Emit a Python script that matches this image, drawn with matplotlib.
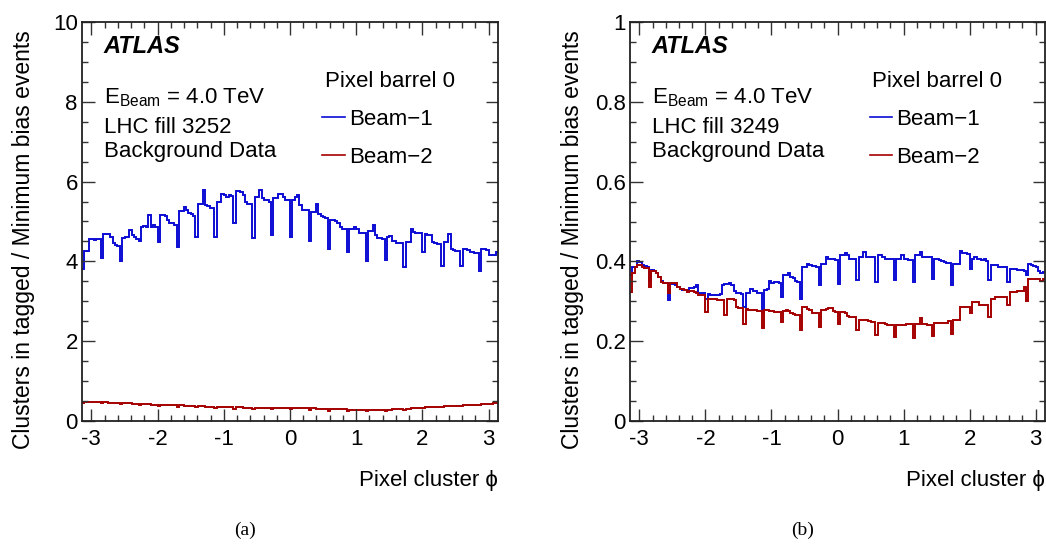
import numpy as np
import matplotlib
matplotlib.use("Agg")
import matplotlib.pyplot as plt
from matplotlib.ticker import MultipleLocator

plt.rcParams['font.family'] = ['Liberation Sans', 'DejaVu Sans']
plt.rcParams['mathtext.fontset'] = 'custom'
plt.rcParams['mathtext.rm'] = 'Liberation Sans'
plt.rcParams['mathtext.it'] = 'Liberation Sans:italic'
plt.rcParams['mathtext.bf'] = 'Liberation Sans:bold'
plt.rcParams['axes.unicode_minus'] = False

# ---------------- data (22 staves x 8 bins, phi in [-pi, pi]) ----------------
n_bins = 176

a_beam1 = [
    3.80, 4.27, 4.27, 4.55, 4.57, 4.53, 4.57, 4.55,
    4.08, 4.69, 4.69, 4.68, 4.62, 4.45, 4.40, 4.38,
    4.00, 4.59, 4.60, 4.62, 4.78, 4.65, 4.60, 4.57,
    4.52, 4.86, 4.88, 4.86, 5.16, 4.86, 4.90, 4.85,
    4.48, 5.16, 5.16, 5.15, 5.05, 4.95, 4.95, 4.90,
    4.35, 5.26, 5.27, 5.37, 5.30, 5.22, 5.20, 5.15,
    4.60, 5.43, 5.43, 5.79, 5.42, 5.40, 5.35, 5.35,
    4.62, 5.49, 5.50, 5.70, 5.66, 5.62, 5.66, 5.64,
    4.96, 5.77, 5.77, 5.75, 5.66, 5.49, 5.45, 5.43,
    4.59, 5.62, 5.62, 5.80, 5.60, 5.54, 5.54, 5.50,
    4.67, 5.58, 5.60, 5.69, 5.69, 5.62, 5.54, 5.54,
    4.60, 5.55, 5.62, 5.66, 5.41, 5.30, 5.28, 5.28,
    4.50, 5.24, 5.24, 5.43, 5.20, 5.15, 5.11, 5.10,
    4.31, 5.05, 5.05, 5.00, 4.95, 4.86, 4.82, 4.82,
    4.23, 4.82, 4.82, 4.86, 4.80, 4.72, 4.71, 4.70,
    4.02, 4.76, 4.76, 4.92, 4.65, 4.59, 4.59, 4.55,
    4.04, 4.62, 4.63, 4.52, 4.52, 4.46, 4.46, 4.46,
    3.87, 4.48, 4.48, 4.82, 4.73, 4.72, 4.70, 4.70,
    4.24, 4.69, 4.65, 4.65, 4.48, 4.46, 4.44, 4.44,
    3.89, 4.48, 4.48, 4.69, 4.31, 4.29, 4.27, 4.27,
    3.89, 4.31, 4.31, 4.29, 4.23, 4.23, 4.22, 4.21,
    3.75, 4.31, 4.31, 4.28, 4.17, 4.17, 4.17, 4.23,
]

a_beam2 = [
    0.44, 0.47, 0.47, 0.48, 0.48, 0.47, 0.47, 0.47,
    0.44, 0.47, 0.47, 0.46, 0.46, 0.46, 0.45, 0.45,
    0.42, 0.45, 0.44, 0.44, 0.44, 0.43, 0.43, 0.43,
    0.40, 0.43, 0.42, 0.42, 0.42, 0.41, 0.41, 0.41,
    0.37, 0.41, 0.40, 0.40, 0.40, 0.39, 0.39, 0.39,
    0.35, 0.39, 0.39, 0.38, 0.38, 0.38, 0.37, 0.37,
    0.34, 0.37, 0.37, 0.37, 0.36, 0.36, 0.36, 0.36,
    0.32, 0.36, 0.35, 0.35, 0.35, 0.34, 0.34, 0.34,
    0.31, 0.34, 0.34, 0.34, 0.33, 0.33, 0.33, 0.33,
    0.30, 0.33, 0.33, 0.33, 0.33, 0.32, 0.32, 0.32,
    0.30, 0.33, 0.33, 0.33, 0.33, 0.33, 0.33, 0.33,
    0.30, 0.33, 0.33, 0.33, 0.33, 0.32, 0.32, 0.32,
    0.28, 0.32, 0.32, 0.31, 0.31, 0.31, 0.30, 0.30,
    0.26, 0.30, 0.30, 0.29, 0.29, 0.29, 0.29, 0.29,
    0.25, 0.28, 0.28, 0.28, 0.28, 0.28, 0.28, 0.28,
    0.25, 0.28, 0.28, 0.28, 0.28, 0.28, 0.28, 0.28,
    0.26, 0.28, 0.28, 0.29, 0.29, 0.29, 0.29, 0.30,
    0.28, 0.31, 0.31, 0.32, 0.32, 0.32, 0.33, 0.33,
    0.32, 0.34, 0.34, 0.35, 0.35, 0.35, 0.36, 0.36,
    0.34, 0.37, 0.37, 0.37, 0.38, 0.38, 0.38, 0.38,
    0.37, 0.39, 0.40, 0.40, 0.40, 0.41, 0.41, 0.41,
    0.40, 0.42, 0.42, 0.43, 0.43, 0.43, 0.44, 0.44,
]

b_beam1 = [
    0.365, 0.386, 0.386, 0.400, 0.398, 0.390, 0.388, 0.386,
    0.350, 0.378, 0.375, 0.372, 0.360, 0.350, 0.346, 0.345,
    0.303, 0.344, 0.344, 0.342, 0.336, 0.330, 0.328, 0.328,
    0.325, 0.333, 0.333, 0.335, 0.340, 0.320, 0.320, 0.320,
    0.307, 0.318, 0.316, 0.316, 0.316, 0.315, 0.318, 0.340,
    0.343, 0.343, 0.345, 0.340, 0.325, 0.320, 0.320, 0.318,
    0.286, 0.320, 0.320, 0.332, 0.325, 0.325, 0.322, 0.320,
    0.273, 0.328, 0.330, 0.352, 0.345, 0.348, 0.348, 0.345,
    0.311, 0.365, 0.365, 0.370, 0.360, 0.358, 0.350, 0.348,
    0.307, 0.386, 0.386, 0.394, 0.390, 0.388, 0.388, 0.386,
    0.340, 0.394, 0.394, 0.410, 0.405, 0.405, 0.405, 0.403,
    0.344, 0.415, 0.415, 0.420, 0.415, 0.405, 0.405, 0.405,
    0.353, 0.410, 0.410, 0.423, 0.412, 0.412, 0.410, 0.410,
    0.348, 0.415, 0.415, 0.410, 0.407, 0.407, 0.406, 0.406,
    0.353, 0.407, 0.407, 0.415, 0.405, 0.405, 0.403, 0.403,
    0.348, 0.415, 0.415, 0.423, 0.412, 0.410, 0.410, 0.410,
    0.357, 0.405, 0.405, 0.403, 0.400, 0.398, 0.396, 0.395,
    0.340, 0.394, 0.394, 0.394, 0.425, 0.420, 0.420, 0.418,
    0.380, 0.405, 0.410, 0.405, 0.405, 0.403, 0.405, 0.402,
    0.353, 0.390, 0.392, 0.390, 0.386, 0.386, 0.385, 0.385,
    0.348, 0.380, 0.382, 0.380, 0.378, 0.378, 0.378, 0.375,
    0.365, 0.394, 0.392, 0.388, 0.385, 0.375, 0.372, 0.374,
]

b_beam2 = [
    0.323, 0.370, 0.386, 0.390, 0.390, 0.385, 0.383, 0.383,
    0.336, 0.375, 0.375, 0.370, 0.360, 0.348, 0.346, 0.346,
    0.320, 0.346, 0.346, 0.345, 0.335, 0.330, 0.330, 0.328,
    0.323, 0.325, 0.325, 0.323, 0.320, 0.315, 0.315, 0.315,
    0.273, 0.305, 0.305, 0.305, 0.305, 0.303, 0.303, 0.303,
    0.265, 0.305, 0.305, 0.305, 0.303, 0.285, 0.283, 0.283,
    0.244, 0.280, 0.278, 0.278, 0.277, 0.277, 0.276, 0.275,
    0.232, 0.277, 0.277, 0.275, 0.275, 0.273, 0.273, 0.273,
    0.248, 0.275, 0.277, 0.275, 0.270, 0.268, 0.265, 0.265,
    0.228, 0.286, 0.286, 0.280, 0.278, 0.270, 0.270, 0.270,
    0.236, 0.278, 0.278, 0.280, 0.282, 0.282, 0.275, 0.273,
    0.244, 0.273, 0.273, 0.270, 0.262, 0.260, 0.260, 0.260,
    0.228, 0.252, 0.252, 0.252, 0.252, 0.250, 0.248, 0.248,
    0.215, 0.246, 0.246, 0.246, 0.244, 0.240, 0.240, 0.240,
    0.211, 0.240, 0.240, 0.240, 0.240, 0.244, 0.244, 0.244,
    0.209, 0.244, 0.244, 0.257, 0.242, 0.242, 0.240, 0.240,
    0.212, 0.246, 0.246, 0.246, 0.246, 0.246, 0.246, 0.250,
    0.219, 0.252, 0.252, 0.252, 0.286, 0.286, 0.286, 0.285,
    0.270, 0.298, 0.298, 0.298, 0.290, 0.290, 0.290, 0.290,
    0.261, 0.307, 0.307, 0.310, 0.310, 0.310, 0.310, 0.310,
    0.290, 0.323, 0.323, 0.323, 0.327, 0.327, 0.327, 0.335,
    0.302, 0.357, 0.357, 0.355, 0.357, 0.355, 0.352, 0.355,
]

fills = ["3252", "3249"]
series_labels = ["Beam\u22121", "Beam\u22122"]
captions = ["(a)", "(b)"]
ylims = [10, 1]
ymajor = [2, 0.2]
yminor = [0.5, 0.05]

BLUE = '#0c0cd4'
RED = '#a50000'
FS = 16

edges = np.linspace(-np.pi, np.pi, n_bins + 1)

W, H = 1046, 546
fig = plt.figure(figsize=(W / 100, H / 100), dpi=100)

axes_px = [(82, 498), (630, 1045)]
top_px, bot_px = 22, 421

panels = [(a_beam1, a_beam2), (b_beam1, b_beam2)]

for i, ((x0, x1), (s1, s2)) in enumerate(zip(axes_px, panels)):
    ax = fig.add_axes([x0 / W, 1 - bot_px / H, (x1 - x0) / W, (bot_px - top_px) / H])
    h1 = ax.stairs(s1, edges, color=BLUE, lw=1.4, baseline=None, label=series_labels[0])
    h2 = ax.stairs(s2, edges, color=RED, lw=1.4, baseline=None, label=series_labels[1])
    ax.set_xlim(-np.pi, np.pi)
    ax.set_ylim(0, ylims[i])
    ax.xaxis.set_major_locator(MultipleLocator(1))
    ax.xaxis.set_minor_locator(MultipleLocator(0.2))
    ax.yaxis.set_major_locator(MultipleLocator(ymajor[i]))
    ax.yaxis.set_minor_locator(MultipleLocator(yminor[i]))
    ax.yaxis.set_major_formatter(plt.FuncFormatter(lambda v, p: f"{v:g}"))
    ax.tick_params(which='both', direction='in', top=True, right=True,
                   labelsize=FS, width=1.0, color='#333333')
    ax.tick_params(which='major', length=9)
    ax.tick_params(which='minor', length=4.5)
    ax.tick_params(axis='x', which='major', pad=6)
    ax.tick_params(axis='y', which='major', pad=3)
    for sp in ax.spines.values():
        sp.set_linewidth(1.3)
        sp.set_color('#222222')

    ax.set_ylabel("Clusters in tagged / Minimum bias events", fontsize=16.5, loc='top')
    ax.yaxis.set_label_coords(-0.112, 0.98)
    ax.set_xlabel("Pixel cluster \u03d5", fontsize=FS, loc='right')
    ax.xaxis.set_label_coords(1.0, -0.122)

    ax.text(0.052, 0.923, "ATLAS", transform=ax.transAxes, fontsize=17,
            fontweight='bold', fontstyle='italic', va='baseline', ha='left')
    ax.text(0.052, 0.795, r"E$_{\mathrm{Beam}}$ = 4.0 TeV", transform=ax.transAxes,
            fontsize=FS, va='baseline', ha='left')
    ax.text(0.052, 0.7225, f"LHC fill {fills[i]}", transform=ax.transAxes,
            fontsize=FS, va='baseline', ha='left')
    ax.text(0.052, 0.6625, "Background Data", transform=ax.transAxes,
            fontsize=FS, va='baseline', ha='left')
    ax.text(0.584, 0.837, "Pixel barrel 0", transform=ax.transAxes,
            fontsize=FS, va='baseline', ha='left')
    leg = ax.legend(handles=[h1, h2], loc='upper left', bbox_to_anchor=(0.578, 0.782),
                    frameon=False, fontsize=FS, handlelength=1.0, handletextpad=0.2,
                    labelspacing=0.75, borderaxespad=0, borderpad=0)
    for ln in leg.get_lines():
        ln.set_linewidth(1.2)

    fig.text([245, 803][i] / W, 1 - 530 / H, captions[i], fontsize=14,
             family='Liberation Serif', ha='center', va='center')

fig.savefig("out.png", dpi=100)
